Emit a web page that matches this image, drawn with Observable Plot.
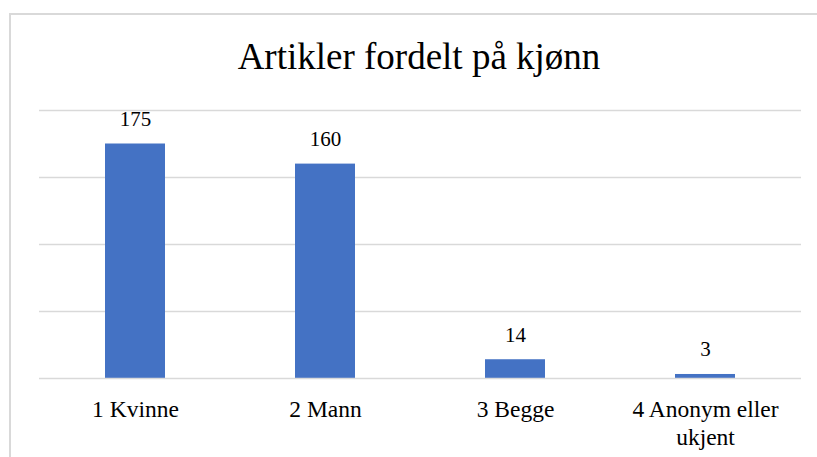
<!DOCTYPE html>
<html>
<head>
<meta charset="utf-8">
<script src="https://cdn.jsdelivr.net/npm/d3@7"></script>
<script src="https://cdn.jsdelivr.net/npm/@observablehq/plot@0.6"></script>
<style>
  html, body { margin: 0; padding: 0; background: #fff; overflow: hidden; }
  #wrap { position: relative; width: 817px; height: 457px; }
  #frame { position: absolute; left: 9px; top: 13px; width: 900px; height: 500px; border: 2px solid #d9d9d9; box-sizing: border-box; }
  #title { position: absolute; left: 0; top: 38px; width: 838px; text-align: center; font-family: "Liberation Serif", serif; font-size: 37px; line-height: 37px; color: #000; }
  #chart { position: absolute; left: 0; top: 0; }
</style>
</head>
<body>
<div id="wrap">
  <div id="frame"></div>
  <div id="title">Artikler fordelt på kjønn</div>
  <div id="chart"></div>
</div>
<script>
const categories = ["1 Kvinne", "2 Mann", "3 Begge", "4 Anonym eller\nukjent"];
const values = [175, 160, 14, 3];
const yTicks = [50, 100, 150, 200];

const data = categories.map((c, i) => ({category: c, value: values[i]}));
const serif = "'Liberation Serif', serif";

const chart = Plot.plot({
  width: 817,
  height: 457,
  marginTop: 110,
  marginBottom: 79,
  marginLeft: 39,
  marginRight: 16,
  style: "font-family: 'Liberation Serif', serif; background: transparent; color: #000;",
  x: {domain: categories, paddingInner: 0.685, paddingOuter: 0.3425, label: null},
  y: {domain: [0, 200], axis: null},
  marks: [
    Plot.ruleY(yTicks, {stroke: "#d9d9d9", strokeWidth: 1.5}),
    Plot.barY(data, {x: "category", y: "value", fill: "#4472c4"}),
    Plot.ruleY([0], {stroke: "#d9d9d9", strokeWidth: 1.5}),
    Plot.text(data, {x: "category", y: "value", text: d => String(d.value), lineAnchor: "bottom", dy: -18, fontSize: 21, fontFamily: serif, fill: "#000"}),
    Plot.axisX({tickSize: 0, tickPadding: 19, fontSize: 23.5, fontFamily: serif, lineHeight: 1.17, fill: "#000", label: null})
  ]
});
document.getElementById("chart").appendChild(chart);
</script>
</body>
</html>
